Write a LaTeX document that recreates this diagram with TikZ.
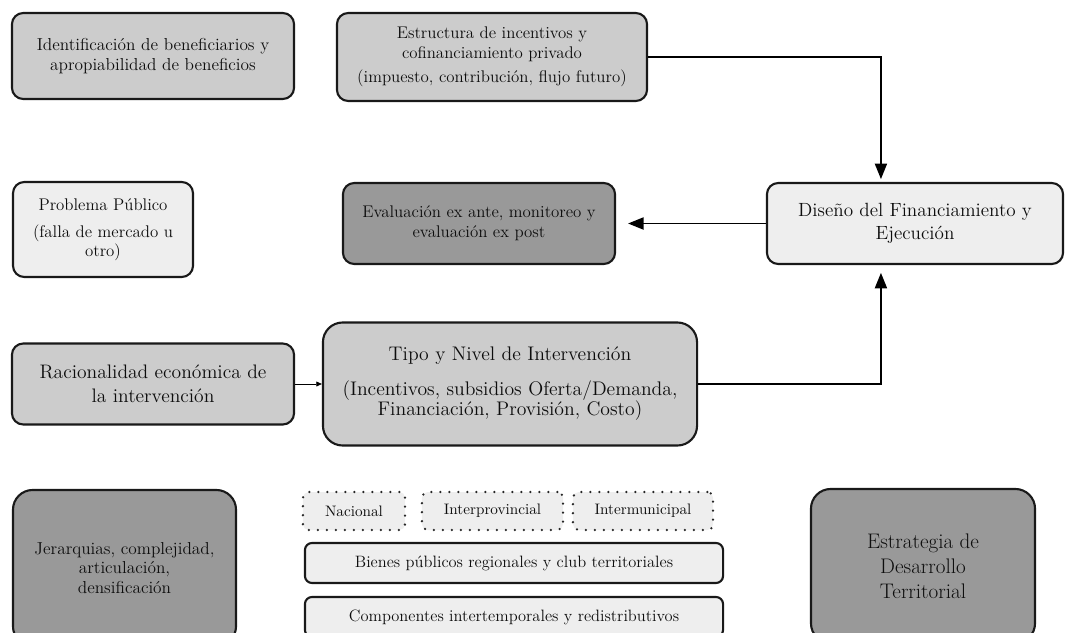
\documentclass[tikz,border=0pt]{standalone}
\usepackage{xcolor}
\usepackage{tikz}
\usetikzlibrary{arrows.meta, positioning, calc}

\definecolor{grisclaro}{HTML}{EEEEEE}
\definecolor{grismedio}{HTML}{CCCCCC}
\definecolor{grisoscuro}{HTML}{999999}

\begin{document}
\begin{tikzpicture}[x=0.025cm, y=-0.025cm,
				basebox/.style={draw=black!90, line width=1.5pt, rounded corners=8pt, align=center, text=black!95, inner sep=2pt},
				lightbox/.style={basebox, fill=grisclaro},
				midbox/.style={basebox, fill=grismedio},
				darkbox/.style={basebox, fill=grisoscuro, rounded corners=14pt},
				dotbox/.style={draw=black!85, line width=1.8pt, dash pattern=on 0pt off 6.4pt, line cap=round, fill=grisclaro, rounded corners=4pt, align=center, text=black!95, minimum height=0.95cm, font=\fontsize{10.8}{13}\selectfont},
				bandbox/.style={lightbox, rounded corners=5pt, minimum width=10.45cm, minimum height=1cm, font=\fontsize{11.7}{14}\selectfont},
				arr/.style={line width=1.4pt, -{Triangle[length=11pt,width=8.5pt]}},
				thinarr/.style={line width=0.6pt, -{Triangle[length=4pt,width=3.5pt]}}
				]
				\useasboundingbox (0,0) rectangle (1072,632);

				% fila superior
				\node[midbox, minimum width=7.05cm, minimum height=2.15cm, font=\fontsize{12.3}{14}\selectfont] (benef) at (153,56)
				{Identificación de beneficiarios y\\apropiabilidad de beneficios};
				\node[midbox, minimum width=7.75cm, minimum height=2.2cm, font=\fontsize{12}{14}\selectfont] (estruc) at (492,57)
				{Estructura de incentivos y\\cofinanciamiento privado\\[3.5pt](impuesto, contribución, flujo futuro)};

				% fila media
				\node[lightbox, minimum width=4.5cm, minimum height=2.375cm, font=\fontsize{12}{13.5}\selectfont] (problema) at (103,229.5)
				{Problema Público\\[6pt](falla de mercado u\\otro)};
				\node[darkbox, rounded corners=8pt, minimum width=6.8cm, minimum height=2.025cm, font=\fontsize{12}{14}\selectfont] (evalua) at (479,223.5)
				{Evaluación ex ante, monitoreo y\\evaluación ex post};
				\node[lightbox, minimum width=7.4cm, minimum height=2.025cm, font=\fontsize{13.6}{16.5}\selectfont] (diseno) at (915,223.5)
				{Diseño del Financiamiento y\\Ejecución};

				% intervencion
				\node[midbox, minimum width=7.05cm, minimum height=2.025cm, font=\fontsize{13.9}{17}\selectfont] (racional) at (153,384)
				{Racionalidad económica de\\la intervención};
				\node[midbox, rounded corners=14pt, minimum width=9.35cm, minimum height=3.075cm, font=\fontsize{14}{14.5}\selectfont] (tipo) at (510,384)
				{Tipo y Nivel de Intervención\\[10pt](Incentivos, subsidios Oferta/Demanda,\\Financiación, Provisión, Costo)};

				% fila inferior
				\node[darkbox, minimum width=5.575cm, minimum height=3.9cm, font=\fontsize{12.3}{14}\selectfont] (jerarq) at (124.5,568)
				{Jerarquias, complejidad,\\articulación,\\densificación};
				\node[dotbox, minimum width=2.55cm] (nacional) at (354,511) {Nacional};
				\node[dotbox, minimum width=3.525cm] (interprov) at (492.5,511) {Interprovincial};
				\node[dotbox, minimum width=3.5cm] (intermun) at (643,511) {Intermunicipal};
				\node[bandbox] (bienes) at (514,563) {Bienes públicos regionales y club territoriales};
				\node[bandbox] (compon) at (514,617) {Componentes intertemporales y redistributivos};
				\node[darkbox, minimum width=5.6cm, minimum height=3.85cm, font=\fontsize{15}{17.8}\selectfont] (estrateg) at (923,566)
				{Estrategia de\\Desarrollo\\Territorial};

				% conectores
				\draw[arr, shorten >=2pt] (estruc.east) -| ([xshift=2.875cm]diseno.north west);
				\draw[arr, shorten >=8.5pt] (diseno.west) -- (evalua.east);
				\draw[arr, shorten >=5.5pt] (tipo.east) -| ([xshift=2.875cm]diseno.south west);
				\draw[thinarr] (racional.east) -- (tipo.west);
			\end{tikzpicture}
\end{document}
